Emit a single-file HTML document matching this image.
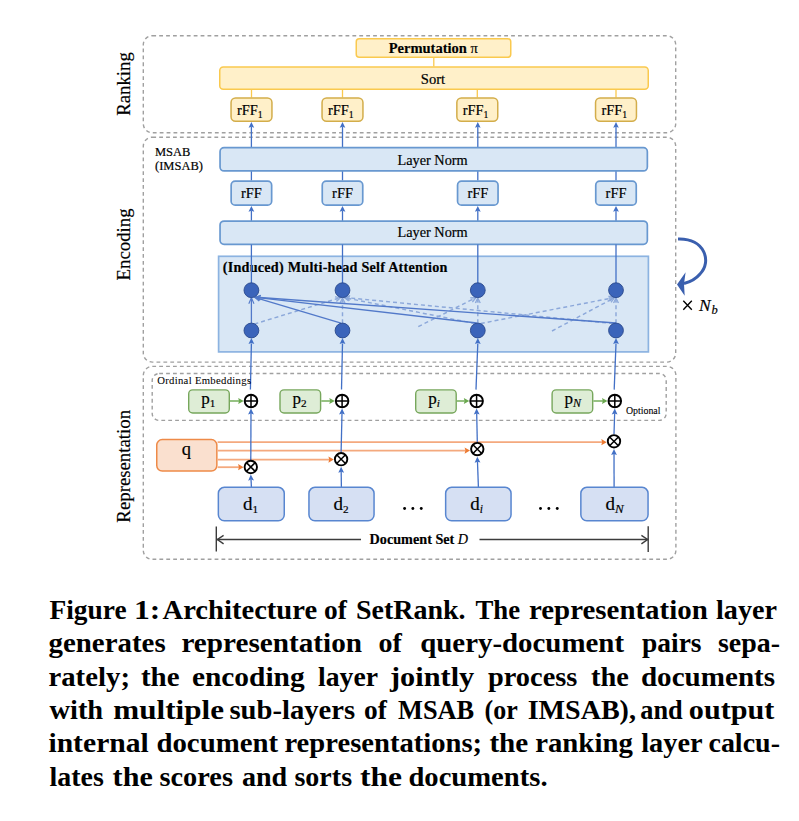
<!DOCTYPE html>
<html><head><meta charset="utf-8"><style>
html,body{margin:0;padding:0;background:#fff;}
body{width:799px;height:821px;position:relative;overflow:hidden;font-family:"Liberation Serif",serif;}
svg{position:absolute;left:0;top:0;font-family:"Liberation Serif",serif;}
#fig text{stroke:#000;stroke-width:0.18px;}
</style></head><body>
<svg width="799" height="821" viewBox="0 0 799 821">
<g id="fig">
<rect x="143.3" y="35.7" width="532.4" height="97.0" rx="9" fill="none" stroke="#a0a0a0" stroke-width="1.4" stroke-dasharray="3.8 3.1"/>
<rect x="143.3" y="137.2" width="532.4" height="224.9" rx="9" fill="none" stroke="#a0a0a0" stroke-width="1.4" stroke-dasharray="3.8 3.1"/>
<rect x="143.3" y="366.4" width="532.6" height="192.9" rx="9" fill="none" stroke="#a0a0a0" stroke-width="1.4" stroke-dasharray="3.8 3.1"/>
<rect x="152.2" y="373.5" width="514" height="46.9" rx="7" fill="none" stroke="#a0a0a0" stroke-width="1.4" stroke-dasharray="3.8 3.1"/>
<text transform="translate(129.9,84) rotate(-90)" x="0" y="0" font-size="18.8" text-anchor="middle">Ranking</text>
<text transform="translate(129.9,244.4) rotate(-90)" x="0" y="0" font-size="18.8" text-anchor="middle">Encoding</text>
<text transform="translate(129.9,466.3) rotate(-90)" x="0" y="0" font-size="18.8" text-anchor="middle">Representation</text>
<line x1="433.80" y1="57.50" x2="433.80" y2="66.50" stroke="#fac94e" stroke-width="1.3"/>
<rect x="356.25" y="38.75" width="154.50" height="18.50" rx="3" fill="#fff0c9" stroke="#fac94e" stroke-width="1.5" />
<text x="433.30" y="52.70" font-size="14.5" font-weight="bold" font-style="normal" text-anchor="middle" fill="#000" >Permutation <tspan font-weight="normal">π</tspan></text>
<line x1="251.50" y1="89.50" x2="251.50" y2="97.50" stroke="#fac94e" stroke-width="1.3"/>
<line x1="342.50" y1="89.50" x2="342.50" y2="97.50" stroke="#fac94e" stroke-width="1.3"/>
<line x1="477.30" y1="89.50" x2="477.30" y2="97.50" stroke="#fac94e" stroke-width="1.3"/>
<line x1="616.00" y1="89.50" x2="616.00" y2="97.50" stroke="#fac94e" stroke-width="1.3"/>
<rect x="219.75" y="66.95" width="428.50" height="22.30" rx="3.5" fill="#fff0c9" stroke="#fac94e" stroke-width="1.5" />
<text x="433.00" y="83.80" font-size="14.6" font-weight="normal" font-style="normal" text-anchor="middle" fill="#000" >Sort</text>
<rect x="231.05" y="97.95" width="40.90" height="23.30" rx="4.5" fill="#fff0c9" stroke="#d3ad4a" stroke-width="1.5" />
<text x="236.90" y="114.5" font-size="14.4">rFF<tspan font-size="9.8" dy="3.3">1</tspan></text>
<rect x="322.05" y="97.95" width="40.90" height="23.30" rx="4.5" fill="#fff0c9" stroke="#d3ad4a" stroke-width="1.5" />
<text x="327.90" y="114.5" font-size="14.4">rFF<tspan font-size="9.8" dy="3.3">1</tspan></text>
<rect x="456.85" y="97.95" width="40.90" height="23.30" rx="4.5" fill="#fff0c9" stroke="#d3ad4a" stroke-width="1.5" />
<text x="462.70" y="114.5" font-size="14.4">rFF<tspan font-size="9.8" dy="3.3">1</tspan></text>
<rect x="595.55" y="97.95" width="40.90" height="23.30" rx="4.5" fill="#fff0c9" stroke="#d3ad4a" stroke-width="1.5" />
<text x="601.40" y="114.5" font-size="14.4">rFF<tspan font-size="9.8" dy="3.3">1</tspan></text>
<line x1="251.40" y1="147.50" x2="251.40" y2="126.60" stroke="#4270c6" stroke-width="1.3"/><path d="M251.40,122.00 L254.20,127.80 L251.40,126.80 L248.60,127.80 Z" fill="#4270c6"/>
<line x1="251.40" y1="171.00" x2="251.40" y2="180.50" stroke="#4270c6" stroke-width="1.3"/>
<line x1="251.40" y1="221.00" x2="251.40" y2="210.60" stroke="#4270c6" stroke-width="1.3"/><path d="M251.40,205.90 L254.30,211.80 L251.40,210.80 L248.50,211.80 Z" fill="#4270c6"/>
<line x1="342.50" y1="147.50" x2="342.50" y2="126.60" stroke="#4270c6" stroke-width="1.3"/><path d="M342.50,122.00 L345.30,127.80 L342.50,126.80 L339.70,127.80 Z" fill="#4270c6"/>
<line x1="342.50" y1="171.00" x2="342.50" y2="180.50" stroke="#4270c6" stroke-width="1.3"/>
<line x1="342.50" y1="221.00" x2="342.50" y2="210.60" stroke="#4270c6" stroke-width="1.3"/><path d="M342.50,205.90 L345.40,211.80 L342.50,210.80 L339.60,211.80 Z" fill="#4270c6"/>
<line x1="477.80" y1="147.50" x2="477.80" y2="126.60" stroke="#4270c6" stroke-width="1.3"/><path d="M477.80,122.00 L480.60,127.80 L477.80,126.80 L475.00,127.80 Z" fill="#4270c6"/>
<line x1="477.80" y1="171.00" x2="477.80" y2="180.50" stroke="#4270c6" stroke-width="1.3"/>
<line x1="477.80" y1="221.00" x2="477.80" y2="210.60" stroke="#4270c6" stroke-width="1.3"/><path d="M477.80,205.90 L480.70,211.80 L477.80,210.80 L474.90,211.80 Z" fill="#4270c6"/>
<line x1="616.00" y1="147.50" x2="616.00" y2="126.60" stroke="#4270c6" stroke-width="1.3"/><path d="M616.00,122.00 L618.80,127.80 L616.00,126.80 L613.20,127.80 Z" fill="#4270c6"/>
<line x1="616.00" y1="171.00" x2="616.00" y2="180.50" stroke="#4270c6" stroke-width="1.3"/>
<line x1="616.00" y1="221.00" x2="616.00" y2="210.60" stroke="#4270c6" stroke-width="1.3"/><path d="M616.00,205.90 L618.90,211.80 L616.00,210.80 L613.10,211.80 Z" fill="#4270c6"/>
<rect x="220.05" y="147.65" width="427.30" height="23.30" rx="4" fill="#d9e7f5" stroke="#6898d0" stroke-width="1.7" />
<text x="432.60" y="164.80" font-size="14.3" font-weight="normal" font-style="normal" text-anchor="middle" fill="#000" >Layer Norm</text>
<rect x="220.05" y="221.05" width="427.30" height="23.30" rx="4" fill="#d9e7f5" stroke="#6898d0" stroke-width="1.7" />
<text x="432.60" y="237.20" font-size="14.3" font-weight="normal" font-style="normal" text-anchor="middle" fill="#000" >Layer Norm</text>
<rect x="231.15" y="181.15" width="40.50" height="24.00" rx="4" fill="#d9e7f5" stroke="#6898d0" stroke-width="1.7" />
<text x="251.40" y="198.00" font-size="14.4" font-weight="normal" font-style="normal" text-anchor="middle" fill="#000" >rFF</text>
<rect x="322.25" y="181.15" width="40.50" height="24.00" rx="4" fill="#d9e7f5" stroke="#6898d0" stroke-width="1.7" />
<text x="342.50" y="198.00" font-size="14.4" font-weight="normal" font-style="normal" text-anchor="middle" fill="#000" >rFF</text>
<rect x="457.55" y="181.15" width="40.50" height="24.00" rx="4" fill="#d9e7f5" stroke="#6898d0" stroke-width="1.7" />
<text x="477.80" y="198.00" font-size="14.4" font-weight="normal" font-style="normal" text-anchor="middle" fill="#000" >rFF</text>
<rect x="595.75" y="181.15" width="40.50" height="24.00" rx="4" fill="#d9e7f5" stroke="#6898d0" stroke-width="1.7" />
<text x="616.00" y="198.00" font-size="14.4" font-weight="normal" font-style="normal" text-anchor="middle" fill="#000" >rFF</text>
<text x="155" y="155.8" font-size="12.5">MSAB</text>
<text x="155" y="170.4" font-size="12.5">(IMSAB)</text>
<rect x="218.6" y="256.3" width="429.8" height="95.6" fill="#d9e7f5" stroke="#8cb3e1" stroke-width="1.7"/>
<text x="222.80" y="271.50" font-size="14.2" font-weight="bold" font-style="normal" text-anchor="start" fill="#000" letter-spacing="0.22">(Induced) Multi-head Self Attention</text>
<line x1="251.40" y1="244.50" x2="251.40" y2="283.00" stroke="#4270c6" stroke-width="1.3"/>
<line x1="342.50" y1="244.50" x2="342.50" y2="283.00" stroke="#4270c6" stroke-width="1.3"/>
<line x1="477.80" y1="244.50" x2="477.80" y2="283.00" stroke="#4270c6" stroke-width="1.3"/>
<line x1="616.00" y1="244.50" x2="616.00" y2="283.00" stroke="#4270c6" stroke-width="1.3"/>
<line x1="254.40" y1="324.00" x2="339.74" y2="297.89" stroke="#8ca8da" stroke-width="1.45" stroke-dasharray="4 3"/><path d="M336.46,301.51 L340.70,297.60 L335.00,296.73" fill="#8ca8da" fill-opacity="0.45" stroke="#8ca8da" stroke-width="1.1"/>
<line x1="474.80" y1="323.50" x2="345.08" y2="297.79" stroke="#8ca8da" stroke-width="1.45" stroke-dasharray="4 3"/><path d="M349.69,296.16 L344.10,297.60 L348.71,301.06" fill="#8ca8da" fill-opacity="0.45" stroke="#8ca8da" stroke-width="1.1"/>
<line x1="613.00" y1="323.50" x2="345.70" y2="297.60" stroke="#8ca8da" stroke-width="1.45" stroke-dasharray="4 3"/><path d="M350.12,295.51 L344.70,297.50 L349.63,300.49" fill="#8ca8da" fill-opacity="0.45" stroke="#8ca8da" stroke-width="1.1"/>
<line x1="342.50" y1="323.20" x2="342.50" y2="298.70" stroke="#8ca8da" stroke-width="1.45" stroke-dasharray="4 3"/><path d="M345.00,302.90 L342.50,297.70 L340.00,302.90" fill="#8ca8da" fill-opacity="0.45" stroke="#8ca8da" stroke-width="1.1"/>
<line x1="418.30" y1="326.60" x2="475.11" y2="298.05" stroke="#8ca8da" stroke-width="1.45" stroke-dasharray="4 3"/><path d="M472.48,302.17 L476.00,297.60 L470.23,297.70" fill="#8ca8da" fill-opacity="0.45" stroke="#8ca8da" stroke-width="1.1"/>
<line x1="477.80" y1="323.20" x2="477.80" y2="298.70" stroke="#8ca8da" stroke-width="1.45" stroke-dasharray="4 3"/><path d="M480.30,302.90 L477.80,297.70 L475.30,302.90" fill="#8ca8da" fill-opacity="0.45" stroke="#8ca8da" stroke-width="1.1"/>
<line x1="480.80" y1="323.50" x2="613.02" y2="297.79" stroke="#8ca8da" stroke-width="1.45" stroke-dasharray="4 3"/><path d="M609.37,301.05 L614.00,297.60 L608.42,296.14" fill="#8ca8da" fill-opacity="0.45" stroke="#8ca8da" stroke-width="1.1"/>
<line x1="552.00" y1="331.00" x2="613.62" y2="298.17" stroke="#8ca8da" stroke-width="1.45" stroke-dasharray="4 3"/><path d="M611.09,302.35 L614.50,297.70 L608.74,297.94" fill="#8ca8da" fill-opacity="0.45" stroke="#8ca8da" stroke-width="1.1"/>
<line x1="616.00" y1="323.20" x2="616.00" y2="298.70" stroke="#8ca8da" stroke-width="1.45" stroke-dasharray="4 3"/><path d="M618.50,302.90 L616.00,297.70 L613.50,302.90" fill="#8ca8da" fill-opacity="0.45" stroke="#8ca8da" stroke-width="1.1"/>
<line x1="341.00" y1="323.10" x2="255.48" y2="297.74" stroke="#5279c9" stroke-width="1.3"/><path d="M260.42,296.91 L255.00,297.60 L259.17,301.13" fill="none" stroke="#5279c9" stroke-width="1.1"/>
<line x1="476.80" y1="323.00" x2="255.90" y2="297.46" stroke="#5279c9" stroke-width="1.3"/><path d="M260.62,295.79 L255.40,297.40 L260.11,300.16" fill="none" stroke="#5279c9" stroke-width="1.1"/>
<line x1="616.00" y1="323.00" x2="256.20" y2="297.24" stroke="#5279c9" stroke-width="1.3"/><path d="M260.84,295.36 L255.70,297.20 L260.53,299.75" fill="none" stroke="#5279c9" stroke-width="1.1"/>
<line x1="251.40" y1="323.00" x2="251.40" y2="298.20" stroke="#5279c9" stroke-width="1.3"/><path d="M254.00,303.70 L251.40,297.70 L248.80,303.70" fill="none" stroke="#5279c9" stroke-width="1.1"/>
<circle cx="251.40" cy="290.2" r="7.4" fill="#3b64ba" stroke="#2a4a8c" stroke-width="0.9"/>
<circle cx="251.40" cy="330.5" r="7.4" fill="#3b64ba" stroke="#2a4a8c" stroke-width="0.9"/>
<circle cx="342.50" cy="290.2" r="7.4" fill="#3b64ba" stroke="#2a4a8c" stroke-width="0.9"/>
<circle cx="342.50" cy="330.5" r="7.4" fill="#3b64ba" stroke="#2a4a8c" stroke-width="0.9"/>
<circle cx="477.80" cy="290.2" r="7.4" fill="#3b64ba" stroke="#2a4a8c" stroke-width="0.9"/>
<circle cx="477.80" cy="330.5" r="7.4" fill="#3b64ba" stroke="#2a4a8c" stroke-width="0.9"/>
<circle cx="616.00" cy="290.2" r="7.4" fill="#3b64ba" stroke="#2a4a8c" stroke-width="0.9"/>
<circle cx="616.00" cy="330.5" r="7.4" fill="#3b64ba" stroke="#2a4a8c" stroke-width="0.9"/>
<path d="M678,239 C705,238 712,262 700,274 C695,280 690,282 684,283.5" fill="none" stroke="#3a5fae" stroke-width="3"/>
<path d="M677,284.5 L685.6,272.2 L684,284 L684.7,295.7 Z" fill="#3a5fae"/>
<path d="M683.3,300.8 L691.8,309.8 M691.8,300.8 L683.3,309.8" stroke="#000" stroke-width="1.35"/>
<text x="699" y="310.5" font-size="17.5" font-style="italic">N</text>
<text x="711.5" y="314.3" font-size="12.5" font-style="italic">b</text>
<path d="M250.40,389.6 L251.40,343.5" stroke="#4270c6" stroke-width="1.3" fill="none"/>
<path d="M251.40,338.00 L254.30,344.00 L251.40,343.00 L248.50,344.00 Z" fill="#4270c6"/>
<path d="M341.50,389.6 L342.50,343.5" stroke="#4270c6" stroke-width="1.3" fill="none"/>
<path d="M342.50,338.00 L345.40,344.00 L342.50,343.00 L339.60,344.00 Z" fill="#4270c6"/>
<path d="M476.00,389.6 L477.80,343.5" stroke="#4270c6" stroke-width="1.3" fill="none"/>
<path d="M477.80,338.00 L480.70,344.00 L477.80,343.00 L474.90,344.00 Z" fill="#4270c6"/>
<path d="M614.20,389.6 L616.00,343.5" stroke="#4270c6" stroke-width="1.3" fill="none"/>
<path d="M616.00,338.00 L618.90,344.00 L616.00,343.00 L613.10,344.00 Z" fill="#4270c6"/>
<text x="157.20" y="384.30" font-size="10.7" font-weight="normal" font-style="normal" text-anchor="start" fill="#000" letter-spacing="0.3" style="stroke-width:0.05px">Ordinal Embeddings</text>
<rect x="188.70" y="389.90" width="40.60" height="23.10" rx="4" fill="#deedd6" stroke="#77a75c" stroke-width="1.4" />
<text x="201.20" y="403.6" font-size="17">p<tspan font-size="11.2" dy="3">1</tspan></text>
<line x1="230.00" y1="401.00" x2="239.20" y2="401.00" stroke="#6aa84f" stroke-width="1.4"/><path d="M243.70,401.00 L238.20,403.90 L239.00,401.00 L238.20,398.10 Z" fill="#6aa84f"/>
<rect x="280.00" y="389.90" width="40.60" height="23.10" rx="4" fill="#deedd6" stroke="#77a75c" stroke-width="1.4" />
<text x="292.50" y="403.6" font-size="17">p<tspan font-size="11.2" dy="3">2</tspan></text>
<line x1="321.30" y1="401.00" x2="330.30" y2="401.00" stroke="#6aa84f" stroke-width="1.4"/><path d="M334.80,401.00 L329.30,403.90 L330.10,401.00 L329.30,398.10 Z" fill="#6aa84f"/>
<rect x="415.70" y="389.90" width="40.50" height="23.10" rx="4" fill="#deedd6" stroke="#77a75c" stroke-width="1.4" />
<text x="428.20" y="403.6" font-size="17">p<tspan font-size="11.2" dy="3" font-style="italic">i</tspan></text>
<line x1="456.90" y1="401.00" x2="464.80" y2="401.00" stroke="#6aa84f" stroke-width="1.4"/><path d="M469.30,401.00 L463.80,403.90 L464.60,401.00 L463.80,398.10 Z" fill="#6aa84f"/>
<rect x="552.10" y="389.90" width="40.60" height="23.10" rx="4" fill="#deedd6" stroke="#77a75c" stroke-width="1.4" />
<text x="564.60" y="403.6" font-size="17">p<tspan font-size="12" dy="3" font-style="italic">N</tspan></text>
<line x1="593.40" y1="401.00" x2="603.00" y2="401.00" stroke="#6aa84f" stroke-width="1.4"/><path d="M607.50,401.00 L602.00,403.90 L602.80,401.00 L602.00,398.10 Z" fill="#6aa84f"/>
<text x="625.90" y="414.20" font-size="9.9" font-weight="normal" font-style="normal" text-anchor="start" fill="#000" style="stroke-width:0.1px">Optional</text>
<rect x="156.75" y="439.55" width="60.10" height="31.50" rx="5.5" fill="#fae0cf" stroke="#ee8a48" stroke-width="1.5" />
<text x="186.40" y="454.50" font-size="18.5" font-weight="normal" font-style="normal" text-anchor="middle" fill="#000" >q</text>
<line x1="217.60" y1="442.20" x2="602.30" y2="442.20" stroke="#f4a97e" stroke-width="1.8"/><path d="M606.70,442.20 L601.30,445.30 L602.10,442.20 L601.30,439.10 Z" fill="#ec7a32"/>
<line x1="217.60" y1="450.60" x2="465.60" y2="450.60" stroke="#f4a97e" stroke-width="1.8"/><path d="M470.00,450.60 L464.60,453.70 L465.40,450.60 L464.60,447.50 Z" fill="#ec7a32"/>
<line x1="217.60" y1="459.60" x2="329.40" y2="459.60" stroke="#f4a97e" stroke-width="1.8"/><path d="M333.80,459.60 L328.40,462.70 L329.20,459.60 L328.40,456.50 Z" fill="#ec7a32"/>
<line x1="217.60" y1="467.20" x2="239.10" y2="467.20" stroke="#f4a97e" stroke-width="1.8"/><path d="M243.50,467.20 L238.10,470.30 L238.90,467.20 L238.10,464.10 Z" fill="#ec7a32"/>
<line x1="250.80" y1="460.00" x2="250.98" y2="413.30" stroke="#4270c6" stroke-width="1.3"/><path d="M251.00,408.50 L253.88,414.51 L250.98,413.50 L248.08,414.49 Z" fill="#4270c6"/>
<line x1="341.10" y1="452.20" x2="341.99" y2="413.30" stroke="#4270c6" stroke-width="1.3"/><path d="M342.10,408.50 L344.86,414.56 L341.99,413.50 L339.06,414.43 Z" fill="#4270c6"/>
<line x1="477.30" y1="442.10" x2="476.70" y2="413.30" stroke="#4270c6" stroke-width="1.3"/><path d="M476.60,408.50 L479.62,414.44 L476.70,413.50 L473.83,414.56 Z" fill="#4270c6"/>
<line x1="614.00" y1="434.30" x2="614.65" y2="413.30" stroke="#4270c6" stroke-width="1.3"/><path d="M614.80,408.50 L617.51,414.59 L614.65,413.50 L611.72,414.41 Z" fill="#4270c6"/>
<line x1="251.40" y1="487.00" x2="251.03" y2="479.39" stroke="#4270c6" stroke-width="1.3"/><path d="M250.80,474.60 L253.99,480.45 L251.04,479.59 L248.19,480.73 Z" fill="#4270c6"/>
<rect x="218.35" y="487.35" width="65.90" height="33.50" rx="6" fill="#d6e0f3" stroke="#5886d0" stroke-width="1.5" />
<text x="242.90" y="509.8" font-size="19">d<tspan font-size="11.2" dy="2.8">1</tspan></text>
<line x1="341.40" y1="487.00" x2="341.17" y2="471.60" stroke="#4270c6" stroke-width="1.3"/><path d="M341.10,466.80 L344.09,472.76 L341.17,471.80 L338.29,472.84 Z" fill="#4270c6"/>
<rect x="308.95" y="487.35" width="65.10" height="33.50" rx="6" fill="#d6e0f3" stroke="#5886d0" stroke-width="1.5" />
<text x="333.50" y="509.8" font-size="19">d<tspan font-size="11.2" dy="2.8">2</tspan></text>
<line x1="478.40" y1="487.00" x2="477.47" y2="461.50" stroke="#4270c6" stroke-width="1.3"/><path d="M477.30,456.70 L480.42,462.59 L477.48,461.70 L474.62,462.80 Z" fill="#4270c6"/>
<rect x="445.65" y="487.35" width="65.40" height="33.50" rx="6" fill="#d6e0f3" stroke="#5886d0" stroke-width="1.5" />
<text x="470.20" y="509.8" font-size="19">d<tspan font-size="11.5" dy="2.8" font-style="italic">i</tspan></text>
<line x1="614.10" y1="487.00" x2="614.01" y2="453.70" stroke="#4270c6" stroke-width="1.3"/><path d="M614.00,448.90 L616.92,454.89 L614.01,453.90 L611.12,454.91 Z" fill="#4270c6"/>
<rect x="580.85" y="487.35" width="67.20" height="33.50" rx="6" fill="#d6e0f3" stroke="#5886d0" stroke-width="1.5" />
<text x="605.40" y="509.8" font-size="19">d<tspan font-size="13" dy="2.8" font-style="italic">N</tspan></text>
<circle cx="250.80" cy="467.0" r="6.2" fill="#fff" stroke="#000" stroke-width="1.9"/>
<path d="M246.42,462.62 L255.18,471.38 M255.18,462.62 L246.42,471.38" stroke="#000" stroke-width="1.5"/>
<circle cx="341.10" cy="459.2" r="6.2" fill="#fff" stroke="#000" stroke-width="1.9"/>
<path d="M336.72,454.82 L345.48,463.58 M345.48,454.82 L336.72,463.58" stroke="#000" stroke-width="1.5"/>
<circle cx="477.30" cy="449.1" r="6.2" fill="#fff" stroke="#000" stroke-width="1.9"/>
<path d="M472.92,444.72 L481.68,453.48 M481.68,444.72 L472.92,453.48" stroke="#000" stroke-width="1.5"/>
<circle cx="614.00" cy="441.3" r="6.2" fill="#fff" stroke="#000" stroke-width="1.9"/>
<path d="M609.62,436.92 L618.38,445.68 M618.38,436.92 L609.62,445.68" stroke="#000" stroke-width="1.5"/>
<circle cx="251.00" cy="401" r="6.3" fill="#fff" stroke="#000" stroke-width="1.9"/>
<path d="M244.70,401 L257.30,401 M251.00,394.7 L251.00,407.3" stroke="#000" stroke-width="1.5"/>
<circle cx="342.10" cy="401" r="6.3" fill="#fff" stroke="#000" stroke-width="1.9"/>
<path d="M335.80,401 L348.40,401 M342.10,394.7 L342.10,407.3" stroke="#000" stroke-width="1.5"/>
<circle cx="476.60" cy="401" r="6.3" fill="#fff" stroke="#000" stroke-width="1.9"/>
<path d="M470.30,401 L482.90,401 M476.60,394.7 L476.60,407.3" stroke="#000" stroke-width="1.5"/>
<circle cx="614.80" cy="401" r="6.3" fill="#fff" stroke="#000" stroke-width="1.9"/>
<path d="M608.50,401 L621.10,401 M614.80,394.7 L614.80,407.3" stroke="#000" stroke-width="1.5"/>
<circle cx="404.6" cy="508.5" r="1.45" fill="#000"/>
<circle cx="412.85" cy="508.5" r="1.45" fill="#000"/>
<circle cx="421.25" cy="508.5" r="1.45" fill="#000"/>
<circle cx="540.5" cy="508.5" r="1.45" fill="#000"/>
<circle cx="548.85" cy="508.5" r="1.45" fill="#000"/>
<circle cx="557.25" cy="508.5" r="1.45" fill="#000"/>
<line x1="216.30" y1="526.50" x2="216.30" y2="551.50" stroke="#3c3c3c" stroke-width="1.4"/>
<line x1="648.20" y1="526.20" x2="648.20" y2="552.10" stroke="#3c3c3c" stroke-width="1.4"/>
<line x1="217.00" y1="539.50" x2="361.00" y2="539.50" stroke="#3c3c3c" stroke-width="1.3"/>
<line x1="479.50" y1="539.50" x2="648.00" y2="539.50" stroke="#3c3c3c" stroke-width="1.3"/>
<path d="M223.6,535.4 L217.4,539.5 L223.6,543.9" fill="none" stroke="#3c3c3c" stroke-width="1.4"/>
<path d="M641.4,535.4 L647.6,539.5 L641.4,543.9" fill="none" stroke="#3c3c3c" stroke-width="1.4"/>
<text x="369.6" y="543.8" font-size="14.2" font-weight="bold">Document Set <tspan font-style="italic" font-weight="normal">D</tspan></text>
</g>
<text transform="translate(49.50,618.90) scale(1.0233,1)" font-size="26.8" font-weight="bold">Figure</text>
<text transform="translate(133.89,618.90) scale(1.1806,1)" font-size="26.8" font-weight="bold">1:</text>
<text transform="translate(162.50,618.90) scale(1.0677,1)" font-size="26.8" font-weight="bold">Architecture</text>
<text transform="translate(323.98,618.90) scale(1.0227,1)" font-size="26.8" font-weight="bold">of</text>
<text transform="translate(355.96,618.90) scale(1.0437,1)" font-size="26.8" font-weight="bold">SetRank.</text>
<text transform="translate(475.50,618.90) scale(1.0000,1)" font-size="26.8" font-weight="bold">The</text>
<text transform="translate(528.92,618.90) scale(1.0793,1)" font-size="26.8" font-weight="bold">representation</text>
<text transform="translate(716.00,618.90) scale(1.0517,1)" font-size="26.8" font-weight="bold">layer</text>
<text transform="translate(48.42,652.22) scale(1.0794,1)" font-size="26.8" font-weight="bold">generates</text>
<text transform="translate(181.41,652.22) scale(1.0899,1)" font-size="26.8" font-weight="bold">representation</text>
<text transform="translate(378.45,652.22) scale(1.0455,1)" font-size="26.8" font-weight="bold">of</text>
<text transform="translate(420.17,652.22) scale(1.0785,1)" font-size="26.8" font-weight="bold">query-document</text>
<text transform="translate(642.00,652.22) scale(1.0259,1)" font-size="26.8" font-weight="bold">pairs</text>
<text transform="translate(717.96,652.22) scale(1.0431,1)" font-size="26.8" font-weight="bold">sepa-</text>
<text transform="translate(48.42,685.54) scale(1.0753,1)" font-size="26.8" font-weight="bold">rately;</text>
<text transform="translate(140.92,685.54) scale(1.0809,1)" font-size="26.8" font-weight="bold">the</text>
<text transform="translate(191.90,685.54) scale(1.0980,1)" font-size="26.8" font-weight="bold">encoding</text>
<text transform="translate(318.00,685.54) scale(1.0345,1)" font-size="26.8" font-weight="bold">layer</text>
<text transform="translate(390.00,685.54) scale(1.1318,1)" font-size="26.8" font-weight="bold">jointly</text>
<text transform="translate(488.00,685.54) scale(1.0595,1)" font-size="26.8" font-weight="bold">process</text>
<text transform="translate(590.94,685.54) scale(1.0588,1)" font-size="26.8" font-weight="bold">the</text>
<text transform="translate(640.91,685.54) scale(1.0861,1)" font-size="26.8" font-weight="bold">documents</text>
<text transform="translate(49.50,718.86) scale(1.0600,1)" font-size="26.8" font-weight="bold">with</text>
<text transform="translate(113.34,718.86) scale(1.1622,1)" font-size="26.8" font-weight="bold">multiple</text>
<text transform="translate(229.43,718.86) scale(1.0690,1)" font-size="26.8" font-weight="bold">sub-layers</text>
<text transform="translate(363.98,718.86) scale(1.0227,1)" font-size="26.8" font-weight="bold">of</text>
<text transform="translate(398.00,718.86) scale(0.9838,1)" font-size="26.8" font-weight="bold">MSAB</text>
<text transform="translate(484.53,718.86) scale(0.9697,1)" font-size="26.8" font-weight="bold">(or</text>
<text transform="translate(527.70,718.86) scale(1.0466,1)" font-size="26.8" font-weight="bold">IMSAB),</text>
<text transform="translate(640.27,718.86) scale(0.9821,1)" font-size="26.8" font-weight="bold">and</text>
<text transform="translate(688.87,718.86) scale(1.1267,1)" font-size="26.8" font-weight="bold">output</text>
<text transform="translate(48.39,752.18) scale(1.1067,1)" font-size="26.8" font-weight="bold">internal</text>
<text transform="translate(156.42,752.18) scale(1.0759,1)" font-size="26.8" font-weight="bold">document</text>
<text transform="translate(284.43,752.18) scale(1.0687,1)" font-size="26.8" font-weight="bold">representations;</text>
<text transform="translate(489.41,752.18) scale(1.0882,1)" font-size="26.8" font-weight="bold">the</text>
<text transform="translate(535.17,752.18) scale(1.0750,1)" font-size="26.8" font-weight="bold">ranking</text>
<text transform="translate(641.25,752.18) scale(1.0560,1)" font-size="26.8" font-weight="bold">layer</text>
<text transform="translate(708.46,752.18) scale(1.0448,1)" font-size="26.8" font-weight="bold">calcu-</text>
<text transform="translate(49.50,785.50) scale(1.0433,1)" font-size="26.8" font-weight="bold">lates</text>
<text transform="translate(112.62,785.50) scale(1.1250,1)" font-size="26.8" font-weight="bold">the</text>
<text transform="translate(159.44,785.50) scale(1.0588,1)" font-size="26.8" font-weight="bold">scores</text>
<text transform="translate(241.95,785.50) scale(1.0476,1)" font-size="26.8" font-weight="bold">and</text>
<text transform="translate(294.45,785.50) scale(1.0463,1)" font-size="26.8" font-weight="bold">sorts</text>
<text transform="translate(360.07,785.50) scale(1.1765,1)" font-size="26.8" font-weight="bold">the</text>
<text transform="translate(408.43,785.50) scale(1.0684,1)" font-size="26.8" font-weight="bold">documents.</text>
</svg>
</body></html>
